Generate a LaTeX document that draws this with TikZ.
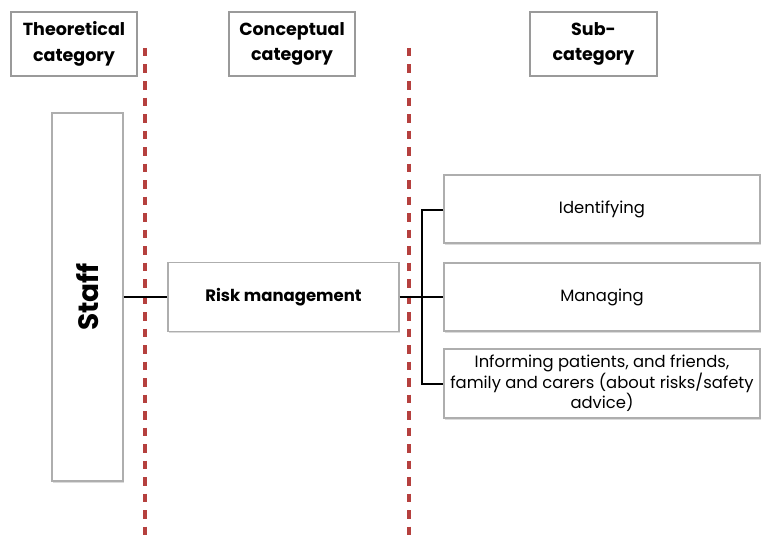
\documentclass[tikz,border=0pt]{standalone}
\usepackage{fontspec}
\setmainfont{Poppins}
\usetikzlibrary{shadows}
\definecolor{divider}{HTML}{B5403E}
\definecolor{boxline}{HTML}{9A9A9A}
\tikzset{
  header/.style={draw=boxline, line width=1.8pt, fill=white, align=center,
    font=\bfseries\fontsize{17.5}{25.5}\selectfont, inner sep=0pt},
  card/.style={draw=boxline!80, line width=1.2pt, fill=white, align=center,
    inner sep=0pt, drop shadow={shadow xshift=1.2pt, shadow yshift=-1.8pt, opacity=0.35, fill=black!40}},
  bodytext/.style={font=\fontsize{16.4}{19.5}\selectfont},
  divline/.style={draw=divider, line width=3.6pt, dash pattern=on 8.5pt off 8pt},
  link/.style={draw=black, line width=2.2pt},
}
\begin{document}
\begin{tikzpicture}[x=1pt, y=-1pt]
\useasboundingbox (0,0) rectangle (768,543);

% column headings
\node[header, minimum width=126pt, minimum height=64pt] (hTheo) at (74,44) {Theoretical\\category};
\node[header, minimum width=126pt, minimum height=64pt] (hConc) at (292,44) {Conceptual\\category};
\node[header, minimum width=127pt, minimum height=64pt] (hSub) at (593.5,44) {Sub-\\category};

% dotted column dividers
\coordinate (d1top) at (145,48);
\coordinate (d1bot) at (145,543);
\coordinate (d2top) at (409,48);
\coordinate (d2bot) at (409,543);
\draw[divline] (d1top) -- (d1bot);
\draw[divline] (d2top) -- (d2bot);

% category boxes
\node[card, minimum width=71pt, minimum height=368pt] (staff) at (87.5,297) {};
\node[rotate=90, font=\bfseries\fontsize{28}{32}\selectfont] (staffText) at (staff.center) {Staff};
\node[card, minimum width=231pt, minimum height=69pt, font=\bfseries\fontsize{16.5}{20}\selectfont] (risk) at (283.5,297) {Risk management};

\node[card, bodytext, minimum width=316pt, minimum height=68pt] (ident) at (602,209) {Identifying};
\node[card, bodytext, minimum width=316pt, minimum height=68pt] (manag) at (602,297) {Managing};
\node[card, bodytext, minimum width=316pt, minimum height=69pt] (inform) at (602,383.5)
  {Informing patients, and friends,\\family and carers (about risks/safety\\advice)};

% connectors
\coordinate (bus) at (422,297);
\draw[link] (staff.east) -- (risk.west);
\draw[link] (risk.east) -- (bus);
\draw[link] (ident.west |- 0,210) -| (422,384) -- (inform.west |- 0,384);
\draw[link] (bus) -- (manag.west);
\end{tikzpicture}
\end{document}
